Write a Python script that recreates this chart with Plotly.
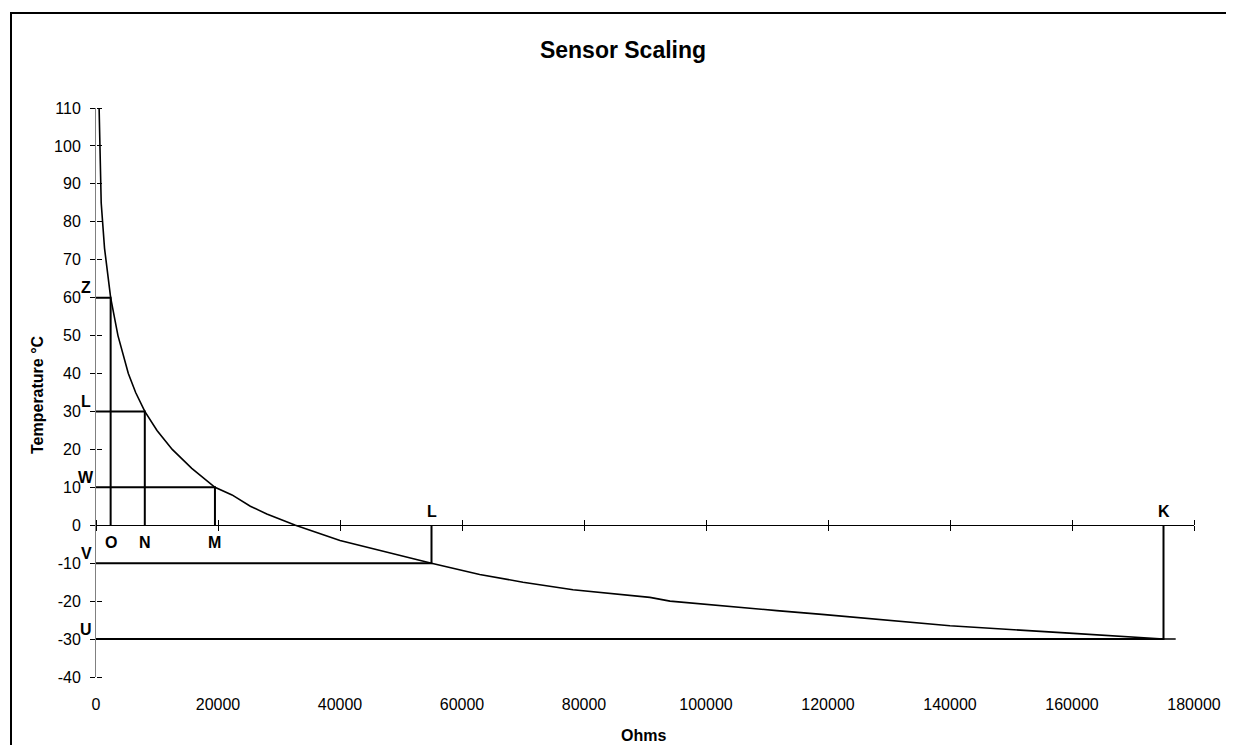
import plotly.graph_objects as go

# Curve data
curve_temps = [110, 100, 85, 73, 60, 50, 45, 40, 35, 30, 25, 20, 15, 10, 8, 5, 3, 0,
               -4, -6, -10, -13, -15, -17, -19, -20, -21.5, -22.5, -23.5, -24.5,
               -26.5, -28.5, -30, -30]
curve_ohms = [510, 680, 850, 1400, 2400, 3600, 4400, 5300, 6500, 8000, 10000, 12500,
              15700, 19500, 22300, 25300, 28000, 32700, 40000, 44900, 55000, 62900,
              70000, 78200, 90800, 94100, 103900, 111600, 119000, 126300, 140000,
              160200, 175000, 177000]

# Reference markers
marker_temps = [60, 30, 10, -10, -30]
marker_ohms = [2400, 8000, 19500, 55000, 175000]
temp_labels = ["Z", "L", "W", "V", "U"]
ohm_labels = ["O", "N", "M", "L", "K"]

x_ticks = list(range(0, 180001, 20000))
y_ticks = list(range(-40, 111, 10))

FONT = "Liberation Sans, Arial, sans-serif"
OFF = 8  # page body margin
W, H = 1234 - 2 * OFF, 753 - 2 * OFF
L, R, T, B = 96 - OFF, 1234 - 1194 - OFF, 108 - OFF, 753 - 677 - OFF
PW, PH = W - L - R, H - T - B


def px_x(page_x):
    return (page_x - OFF - L) / PW


def px_y(page_y):
    return (H - B - (page_y - OFF)) / PH


fig = go.Figure()

fig.add_trace(go.Scatter(x=curve_ohms, y=curve_temps, mode="lines",
                         line=dict(color="black", width=1.6), showlegend=False,
                         hoverinfo="skip"))

for t, o in zip(marker_temps, marker_ohms):
    fig.add_trace(go.Scatter(x=[0, o, o], y=[t, t, 0], mode="lines",
                             line=dict(color="black", width=2), showlegend=False,
                             hoverinfo="skip"))

# dummy traces so overlay axes render
fig.add_trace(go.Scatter(x=[None], y=[None], xaxis="x2", yaxis="y", showlegend=False, hoverinfo="skip"))
fig.add_trace(go.Scatter(x=[None], y=[None], xaxis="x3", yaxis="y", showlegend=False, hoverinfo="skip"))
fig.add_trace(go.Scatter(x=[None], y=[None], xaxis="x", yaxis="y2", showlegend=False, hoverinfo="skip"))

zero_pos = (0 - y_ticks[0]) / (y_ticks[-1] - y_ticks[0])

common_x = dict(range=[x_ticks[0], x_ticks[-1]], tickvals=x_ticks,
                ticktext=[str(v) for v in x_ticks], showgrid=False, zeroline=False,
                automargin=False)
common_y = dict(range=[y_ticks[0], y_ticks[-1]], tickvals=y_ticks,
                ticktext=[str(v) for v in y_ticks], showgrid=False, zeroline=False,
                automargin=False)
fig.update_layout(
    width=W, height=H,
    margin=dict(l=L, r=R, t=T, b=B, autoexpand=False),
    paper_bgcolor="white", plot_bgcolor="white",
    font=dict(family=FONT, size=16, color="black"),
    xaxis=dict(**common_x, showline=False, ticks="", ticklabelstandoff=16,
               tickfont=dict(size=16)),
    xaxis2=dict(**common_x, overlaying="x", anchor="free", position=zero_pos,
                side="bottom", showline=True, linecolor="black", linewidth=1,
                ticks="outside", ticklen=5, tickcolor="black", showticklabels=False),
    xaxis3=dict(**common_x, overlaying="x", anchor="free", position=zero_pos,
                side="top", showline=False, ticks="outside", ticklen=5,
                tickcolor="black", showticklabels=False),
    yaxis=dict(**common_y, showline=True, linecolor="#808080", linewidth=1,
               ticks="outside", ticklen=5, tickcolor="black", ticklabelstandoff=6,
               tickfont=dict(size=16)),
    yaxis2=dict(**common_y, overlaying="y", anchor="free", position=0, side="right",
                showline=False, ticks="outside", ticklen=5, tickcolor="black",
                showticklabels=False),
    title=dict(text="<b>Sensor Scaling</b>", x=(623 - OFF) / W, xref="container",
               xanchor="center", y=1 - (50 - OFF) / H, yref="container",
               yanchor="middle", font=dict(size=23, family=FONT)),
)

annotations = [
    dict(text="<b>Ohms</b>", xref="paper", yref="paper", x=px_x(643), y=px_y(735),
         showarrow=False, xanchor="center", yanchor="middle", font=dict(size=16)),
    dict(text="<b>Temperature °C</b>", xref="paper", yref="paper", x=px_x(37),
         y=px_y(395), showarrow=False, textangle=-90, xanchor="center",
         yanchor="middle", font=dict(size=16)),
]
for t, lab in zip(marker_temps, temp_labels):
    annotations.append(dict(text=f"<b>{lab}</b>", xref="paper", yref="y", x=0, y=t,
                            xshift=-10, yshift=10, showarrow=False, xanchor="center",
                            yanchor="middle", font=dict(size=16)))
for t, o, lab in zip(marker_temps, marker_ohms, ohm_labels):
    below = t > 0
    annotations.append(dict(text=f"<b>{lab}</b>", xref="x", yref="y", x=o, y=0,
                            yshift=-17 if below else 14, showarrow=False,
                            xanchor="center", yanchor="middle", font=dict(size=16)))
fig.update_layout(annotations=annotations)

# chart-area border
fig.add_shape(type="rect", xref="paper", yref="paper",
              x0=px_x(11), x1=px_x(1270), y0=px_y(790), y1=px_y(13),
              line=dict(color="black", width=2), layer="below")

fig.write_html("out.html")
